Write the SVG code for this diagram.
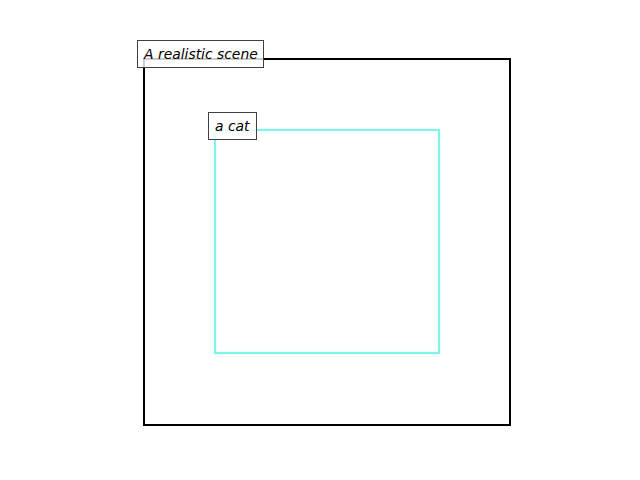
<svg xmlns="http://www.w3.org/2000/svg" width="640" height="480" viewBox="0 0 640 480">
<style>
.lbl{fill:#ffffff;fill-opacity:0.8;stroke:#3f3f3f;stroke-width:1}
.t{font-family:"DejaVu Sans",sans-serif;font-style:oblique;font-size:13.9px;fill:#000}
</style>
<rect width="640" height="480" fill="#fff"/>
<g id="scene">
<rect x="144" y="59" width="366" height="366" fill="none" stroke="#000" stroke-width="2"/>
</g>
<g id="cat">
<rect x="215" y="130" width="224" height="223" fill="none" stroke="#7ff5e6" stroke-width="2.2"/>
</g>
<g id="scene-label">
<rect class="lbl" x="137.5" y="40.5" width="126" height="27"/>
<text class="t" x="144" y="58.5">A realistic scene</text>
</g>
<g id="cat-label">
<rect class="lbl" x="208.5" y="112.5" width="48" height="27"/>
<text class="t" x="215" y="130.5">a cat</text>
</g>
</svg>
